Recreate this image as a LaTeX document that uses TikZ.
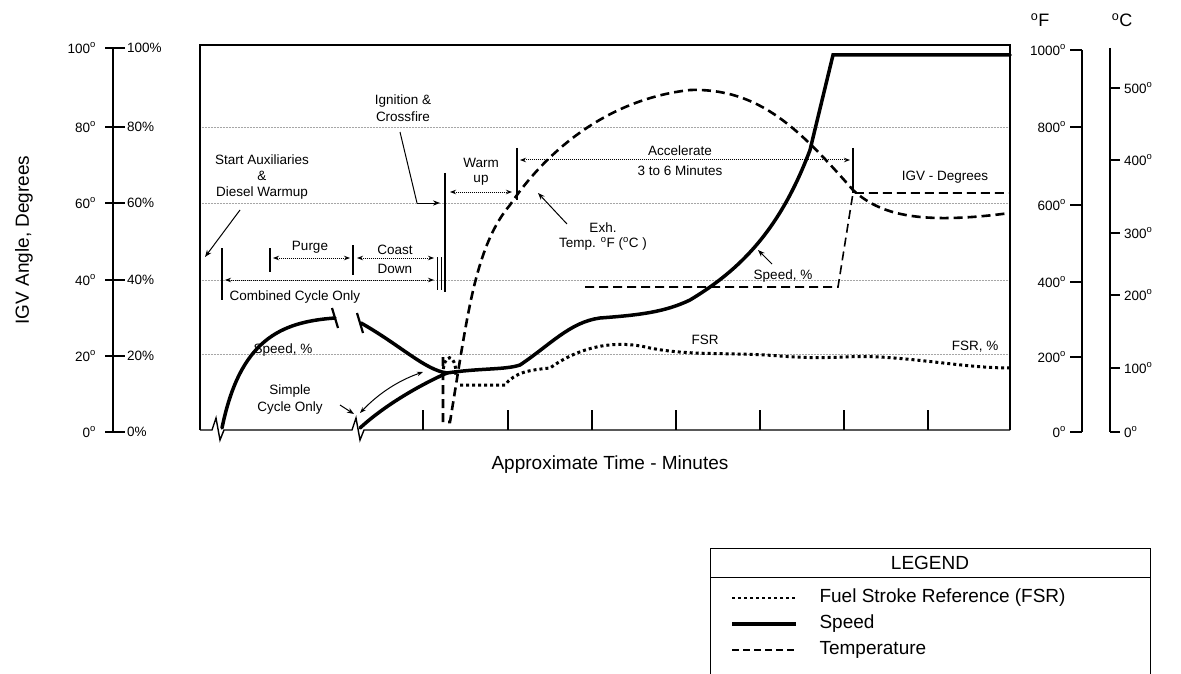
\documentclass[tikz,border=0pt]{standalone}
\usepackage{fontspec}
\setmainfont{Liberation Sans}
\usetikzlibrary{positioning,arrows.meta}

\tikzstyle{lbl}=[font=\fontsize{13.5}{15}\selectfont, inner sep=0pt, align=center]
\tikzstyle{grid}=[densely dotted, gray!70, line width=0.5pt]
\tikzstyle{speed}=[line width=3.5pt, line cap=round]
\tikzstyle{temp}=[line width=2.6pt, dash pattern=on 9pt off 5pt]
\tikzstyle{igv}=[line width=1.6pt, dash pattern=on 9pt off 5pt]
\tikzstyle{fsr}=[line width=3pt, dash pattern=on 3pt off 3pt]
\tikzstyle{span}=[{Stealth[length=6pt]}-{Stealth[length=6pt]}, densely dotted, line width=1pt]
\tikzstyle{lead}=[-{Stealth[length=7pt]}, line width=1pt]

\begin{document}
\begin{tikzpicture}[x=1pt,y=-1pt]
\useasboundingbox (0,0) rectangle (1181,674);
% grid
\foreach \y in {45,127,203,280,354}
  \draw [grid] (200,\y) -- (1010,\y);
\draw [line width=1.4pt] (200,430) -- (200,45) -- (1010,45) -- (1010,430);
\draw [line width=1.4pt] (200,430) -- (212,430) -- (216,418) -- (220,440) -- (224,430) -- (352,430) -- (356,418) -- (360,440) -- (364,430) -- (1010,430);
\foreach \x in {423,508,592,676,760,844,928}
  \draw [line width=1.2pt] (\x,410) -- (\x,430);
% left axis
\draw [line width=1.2pt] (113,48) -- (113,432);
\foreach \y/\d in {48/100,127/80,203/60,280/40,356/20,432/0}{
  \draw [line width=1.2pt] (105,\y) -- (125,\y);
  \node [lbl, anchor=east] at (96,\y) {\d\textsuperscript{o}};
  \node [lbl, anchor=west] at (127,\y) {\d\%};
}
\node [font=\fontsize{19}{20}\selectfont, rotate=90] (igvtitle) at (24,240) {IGV Angle, Degrees};
% right axes
\draw [line width=1.2pt] (1082,50) -- (1082,432);
\foreach \y/\d in {50/1000,127/800,205/600,282/400,357/200,432/0}{
  \draw [line width=1.2pt] (1070,\y) -- (1082,\y);
  \node [lbl, anchor=east] at (1066,\y) {\d\textsuperscript{o}};
}
\draw [line width=1.2pt] (1110,48) -- (1110,432);
\foreach \y/\d in {88/500,160/400,233/300,295/200,368/100,432/0}{
  \draw [line width=1.2pt] (1110,\y) -- (1120,\y);
  \node [lbl, anchor=west] at (1124,\y) {\d\textsuperscript{o}};
}
\node [font=\fontsize{18}{18}\selectfont] (degF) at (1040,20) {\textsuperscript{o}F};
\node [font=\fontsize{18}{18}\selectfont] (degC) at (1122,20) {\textsuperscript{o}C};
\node [font=\fontsize{19}{20}\selectfont] (xtitle) at (610,465) {Approximate Time - Minutes};

% speed
\draw [speed] (222,428) .. controls (240,340) and (280,322) .. (335,318);
\draw [line width=2.2pt] (332,308) -- (338,328);
\draw [line width=2.2pt] (357,313) -- (363,333);
\draw [speed] (361,323) .. controls (400,345) and (425,370) .. (447,373)
  .. controls (480,368) and (505,370) .. (520,365)
  .. controls (550,345) and (570,322) .. (600,318)
  .. controls (640,315) and (665,312) .. (690,300)
  .. controls (740,270) and (780,230) .. (810,150)
  -- (833,55) -- (1010,55);
\draw [speed] (360,428) .. controls (385,405) and (420,385) .. (447,373);
% temperature
\draw [temp] (443,357) -- (443,422) -- (450,422) -- (460,360)
  .. controls (470,300) and (480,240) .. (510,205)
  .. controls (540,160) and (600,100) .. (690,90)
  .. controls (760,88) and (800,130) .. (853,190)
  .. controls (880,215) and (920,225) .. (1010,213);
% igv
\draw [igv] (585,287) -- (838,287) -- (853,193) -- (1010,193);
% fsr
\draw [fsr] (443,375) .. controls (443,352) and (456,352) .. (456,375);
\draw [fsr] (460,385) -- (505,385) .. controls (515,372) and (530,370) .. (550,368)
  .. controls (575,350) and (610,338) .. (650,348)
  .. controls (690,356) and (730,352) .. (780,356)
  .. controls (830,360) and (850,355) .. (880,357)
  .. controls (930,360) and (970,368) .. (1010,368);

% annotations
\node [lbl] (ignition) at (403,108) {Ignition \&\\[2pt]Crossfire};
\coordinate (ignbend) at (417,203);
\coordinate (ignend) at (440,203);
\draw [line width=1pt] (400,132) -- (ignbend);
\draw [lead] (ignbend) -- (ignend);
\draw [line width=1.2pt] (445,173) -- (445,292);
\draw [line width=1pt] (437,257) -- (437,290) (441,257) -- (441,290);
\node [lbl] (warm) at (481,172) {Warm\\up};
\draw [span] (450,192) -- (512,192);
\draw [line width=1.2pt] (517,148) -- (517,200);
\node [lbl] (accel) at (680,161) {Accelerate\\[5pt]3 to 6 Minutes};
\draw [span] (520,160) -- (850,160);
\draw [line width=1.2pt] (853,148) -- (853,193);
\node [lbl] (igvlbl) at (945,177) {IGV - Degrees};
\node [lbl] (exh) at (603,237) {Exh.\\Temp. \textsuperscript{o}F (\textsuperscript{o}C )};
\draw [lead] (567,224) -- (538,193);
\node [lbl] (speedr) at (783,276) {Speed, \%};
\draw [lead] (772,264) -- (758,250);
\node [lbl] (fsrlbl) at (705,340) {FSR};
\node [lbl] (fsrpct) at (975,347) {FSR, \%};
\node [lbl] (startaux) at (262,177) {Start Auxiliaries\\[1pt]\&\\[1pt]Diesel Warmup};
\draw [lead] (240,210) -- (205,257);
\draw [line width=1.2pt] (222,248) -- (222,300);
\draw [line width=1.2pt] (270,248) -- (270,272);
\draw [line width=1.2pt] (353,245) -- (353,275);
\node [lbl] (purge) at (310,247) {Purge};
\draw [span] (273,258) -- (350,258);
\node [lbl] (coast) at (395,259) {Coast\\[4pt]Down};
\draw [span] (357,258) -- (434,258);
\draw [span] (225,280) -- (434,280);
\node [lbl] (combined) at (295,297) {Combined Cycle Only};
\node [lbl] (speedl) at (283,350) {Speed, \%};
\node [lbl] (simple) at (290,400) {Simple\\[2pt]Cycle Only};
\draw [lead] (340,405) -- (354,414);
\draw [span, solid] (360,413) .. controls (380,392) and (400,380) .. (423,372);

% legend
\draw [line width=1pt] (710,548) -- (1150,548) -- (1150,674) (710,548) -- (710,674);
\draw [line width=1pt] (710,577) -- (1150,577);
\node [font=\fontsize{19}{20}\selectfont] (legend) at (930,563) {LEGEND};
\draw [fsr, line width=2.4pt] (732,598) -- (796,598);
\node [font=\fontsize{19}{20}\selectfont, anchor=west] (lfsr) at (816,598) {Fuel Stroke Reference (FSR)};
\draw [line width=3.5pt] (732,624) -- (796,624);
\node [font=\fontsize{19}{20}\selectfont, anchor=west] (lspeed) at (816,624) {Speed};
\draw [line width=1.8pt, dash pattern=on 7pt off 4pt] (732,650) -- (796,650);
\node [font=\fontsize{19}{20}\selectfont, anchor=west] (ltemp) at (816,650) {Temperature};
\end{tikzpicture}
\end{document}
